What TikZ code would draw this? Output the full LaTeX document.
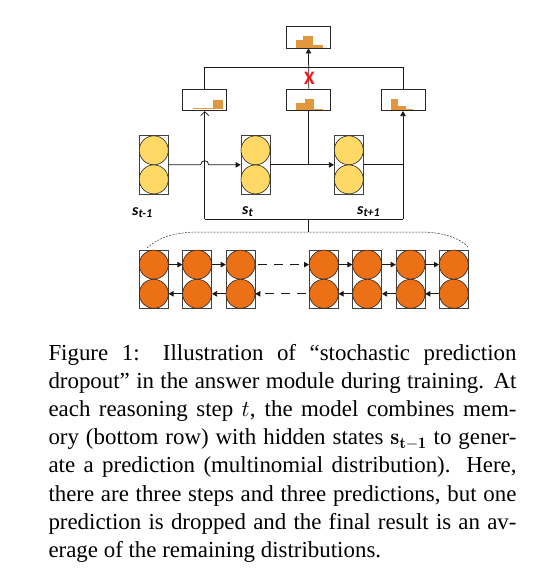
\RequirePackage{fix-cm}
\documentclass[tikz,border=0pt]{standalone}
\usepackage{fontspec}
\usetikzlibrary{arrows.meta,calc}
\newfontfamily\capfont{Liberation Serif}
\newfontfamily\lblfont{Carlito}
\definecolor{yfill}{RGB}{255,217,102}
\definecolor{ofill}{RGB}{236,112,22}
\definecolor{hfill}{RGB}{226,150,62}
\definecolor{xred}{RGB}{250,20,20}
\tikzset{
  colbox/.style={draw=black!75, fill=white, line width=0.7pt, minimum width=29pt, minimum height=58.3pt, inner sep=0pt},
  ycirc/.style={circle, draw=black!85, fill=yfill, line width=0.6pt, minimum size=29pt, inner sep=0pt},
  ocirc/.style={circle, draw=black!85, fill=ofill, line width=0.6pt, minimum size=29pt, inner sep=0pt},
  predbox/.style={draw=black!85, fill=white, line width=0.8pt, minimum width=44pt, minimum height=21.7pt, inner sep=0pt},
  bar/.style={fill=hfill, draw=none},
  conn/.style={draw=black!90, line width=0.75pt},
  tip/.style={-{Triangle[length=5pt,width=5.5pt]}},
  barb/.style={-{Straight Barb[length=4pt,width=8pt,line width=0.8pt]}},
  lbl/.style={inner sep=0pt, anchor=base west, font=\lblfont\bfseries\itshape\fontsize{16}{16}\selectfont},
  capline/.style={inner sep=0pt, anchor=base west, font=\capfont\fontsize{22.9}{28}\selectfont},
}
\begin{document}
\begin{tikzpicture}[x=1pt,y=-1pt]
\useasboundingbox (0,0) rectangle (537,573);
\fill[white] (0,0) rectangle (537,573);

% prediction boxes
\node[predbox] (tp) at (308.5,37.2) {};
\node[predbox] (lp) at (204.7,99.8) {};
\node[predbox] (mp) at (308.8,99.8) {};
\node[predbox] (rp) at (403,99.8) {};
% histograms
\fill[bar] (296,40) rectangle (303,47.8);
\fill[bar] (303,36) rectangle (313,47.8);
\fill[bar] (313,45) rectangle (323,47.8);
\fill[bar] (193.3,107.5) rectangle (213.3,109);
\fill[bar] (213.3,100) rectangle (222.7,109);
\fill[bar] (296,103.3) rectangle (305,110.2);
\fill[bar] (305,99.3) rectangle (314,110.2);
\fill[bar] (314,109) rectangle (323,110.2);
\fill[bar] (391,99.3) rectangle (398,110.2);
\fill[bar] (398,106) rectangle (406,110.2);
\fill[bar] (406,109) rectangle (413,110.2);

% yellow hidden state columns
\foreach \n/\x in {1/153.8,2/255.5,3/348.8}{
  \node[colbox] (y\n) at (\x,164.85) {};
  \node[ycirc] (y\n a) at (\x,150.3) {};
  \node[ycirc] (y\n b) at (\x,179.4) {};
}
% orange memory columns
\foreach \n/\x in {1/153.8,2/197.2,3/240.5,4/323.8,5/367.2,6/410.5,7/453.8}{
  \node[colbox] (o\n) at (\x,279.2) {};
  \node[ocirc] (o\n a) at (\x,264.6) {};
  \node[ocirc] (o\n b) at (\x,293.8) {};
}

% labels
\node[lbl] (l1) at (132,215.5) {s\raisebox{-2pt}{\fontsize{12}{12}\selectfont t-1}};
\node[lbl] (l2) at (242,214) {s\raisebox{-2pt}{\fontsize{12}{12}\selectfont t}};
\node[lbl] (l3) at (357,214) {s\raisebox{-2pt}{\fontsize{12}{12}\selectfont t+1}};

% top combination
\coordinate (jl) at (204.7,67.3);
\coordinate (jr) at (403,67.3);
\draw[conn] (lp.north) -- (jl) -- (jr) -- (rp.north);
\draw[conn,tip] (mp.north) -- (tp.south);
\node[text=xred, inner sep=0pt, font=\lblfont\bfseries\fontsize{19}{19}\selectfont] (xx) at (309.3,78.5) {X};

% hidden-state connectors
\coordinate (hop) at (y1.east -| lp.south);
\draw[conn,tip] (y1.east) -- ([xshift=-4pt]hop) .. controls +(0,-5.5) and +(0,-5.5) .. ([xshift=4pt]hop) -- (y2.west);
\draw[conn,tip] (y2.east) -- (y3.west);
\draw[conn] (mp.south) -- (mp.south |- y2.east);
\draw[conn] (y3.east) -- (y3.east -| rp.south);
\coordinate (bl) at (204.7,219);
\coordinate (br) at (403,219);
\draw[conn,barb] (bl) -- (lp.south);
\draw[conn] (bl) -- (br);
\draw[conn,tip] (br) -- (rp.south);

% memory bracket
\coordinate (bm) at (308,219);
\coordinate (bt) at (308,232);
\draw[conn] (bm) -- (bt);
\draw[black!80, line width=0.5pt, dash pattern=on 2pt off 1.2pt] (147,248) .. controls (160,236) and (178,232) .. (200,232) -- (420,232) .. controls (442,232) and (460,238) .. (468,247);

% memory arrows
\foreach \i/\j in {1/2,2/3,4/5,5/6,6/7}{
  \draw[conn,tip] (o\i a.east) -- (o\j a.west);
  \draw[conn,tip] (o\j b.west) -- (o\i b.east);
}
\draw[conn,tip,dash pattern=on 9pt off 7pt] ([xshift=3pt]o3a.east) -- (o4a.west);
\draw[conn,tip,dash pattern=on 9pt off 7pt] ([xshift=-3pt]o4b.west) -- (o3b.east);

% caption
\node[capline] (c1) at (48.3,360) {\makebox[468pt][s]{Figure 1: Illustration of “stochastic prediction}};
\node[capline] (c2) at (48.3,388.2) {\makebox[468pt][s]{dropout” in the answer module during training. At}};
\node[capline] (c3) at (48.3,416.4) {\makebox[468pt][s]{each reasoning step $t$, the model combines mem-}};
\node[capline] (c4) at (48.3,444.6) {\makebox[468pt][s]{ory (bottom row) with hidden states $\mathbf{s}_{\mathbf{t}-\mathbf{1}}$ to gener-}};
\node[capline] (c5) at (48.3,472.8) {\makebox[468pt][s]{ate a prediction (multinomial distribution). Here,}};
\node[capline] (c6) at (48.3,501) {\makebox[468pt][s]{there are three steps and three predictions, but one}};
\node[capline] (c7) at (48.3,529.2) {\makebox[468pt][s]{prediction is dropped and the final result is an av-}};
\node[capline] (c8) at (48.3,557.4) {erage of the remaining distributions.};
\end{tikzpicture}
\end{document}
